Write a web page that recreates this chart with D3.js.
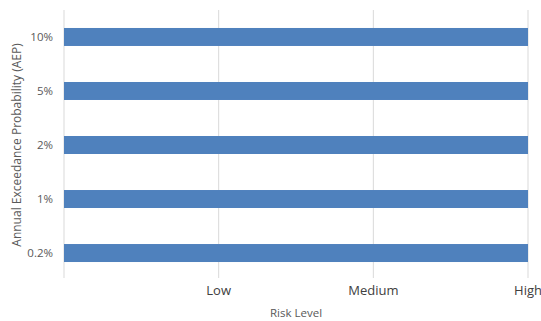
<!DOCTYPE html>
<html>
<head>
<meta charset="utf-8">
<script src="https://cdn.jsdelivr.net/npm/d3@7"></script>
<style>
  body { margin: 0; background: #fff; }
  text { font-family: "Open Sans", "Liberation Sans", sans-serif; }
</style>
</head>
<body>
<svg id="chart"></svg>
<script>
// data
var categories = ["10%", "5%", "2%", "1%", "0.2%"];
var riskValues = [3, 3, 3, 3, 3];
var tickLabels = ["", "Low", "Medium", "High"];

var width = 541, height = 321;
var margin = {top: 10, right: 13, bottom: 41, left: 64};

var svg = d3.select("#chart")
    .attr("width", width)
    .attr("height", height);

var x = d3.scaleLinear()
    .domain([0, tickLabels.length - 1])
    .range([margin.left, width - margin.right]);

var y = d3.scaleBand()
    .domain(categories)
    .range([margin.top, height - margin.bottom])
    .paddingInner(0.667)
    .paddingOuter(0.333);

// gridlines
svg.append("g")
    .selectAll("line")
    .data(d3.range(1, tickLabels.length))
    .enter().append("line")
    .attr("x1", function(d) { return x(d); })
    .attr("x2", function(d) { return x(d); })
    .attr("y1", margin.top)
    .attr("y2", height - margin.bottom - 2)
    .attr("stroke", "#d9d9d9")
    .attr("stroke-width", 1);

// y axis line
svg.append("line")
    .attr("x1", x(0)).attr("x2", x(0))
    .attr("y1", margin.top).attr("y2", height - margin.bottom - 2)
    .attr("stroke", "#d9d9d9");

// bars
svg.selectAll(".bar")
    .data(categories)
    .enter().append("rect")
    .attr("class", "bar")
    .attr("x", x(0))
    .attr("y", function(d) { return y(d); })
    .attr("width", function(d, i) { return x(riskValues[i]) - x(0); })
    .attr("height", y.bandwidth())
    .attr("fill", "#4f81bd");

// y tick labels
svg.append("g")
    .selectAll("text")
    .data(categories)
    .enter().append("text")
    .attr("x", x(0) - 11)
    .attr("y", function(d) { return y(d) + y.bandwidth() / 2; })
    .attr("dy", "0.35em")
    .attr("text-anchor", "end")
    .attr("font-size", 11.5)
    .attr("fill", "#595959")
    .text(function(d) { return d; });

// x tick labels
svg.append("g")
    .selectAll("text")
    .data(tickLabels)
    .enter().append("text")
    .attr("x", function(d, i) { return x(i); })
    .attr("y", 295)
    .attr("text-anchor", "middle")
    .attr("font-size", 13)
    .attr("fill", "#404040")
    .text(function(d) { return d; });

// axis titles
svg.append("text")
    .attr("x", (x(0) + x(3)) / 2)
    .attr("y", 317)
    .attr("text-anchor", "middle")
    .attr("font-size", 11.5)
    .attr("fill", "#595959")
    .text("Risk Level");

svg.append("text")
    .attr("transform", "translate(21," + ((margin.top + height - margin.bottom) / 2) + ") rotate(-90)")
    .attr("text-anchor", "middle")
    .attr("font-size", 12)
    .attr("fill", "#595959")
    .text("Annual Exceedance Probability (AEP)");
</script>
</body>
</html>
